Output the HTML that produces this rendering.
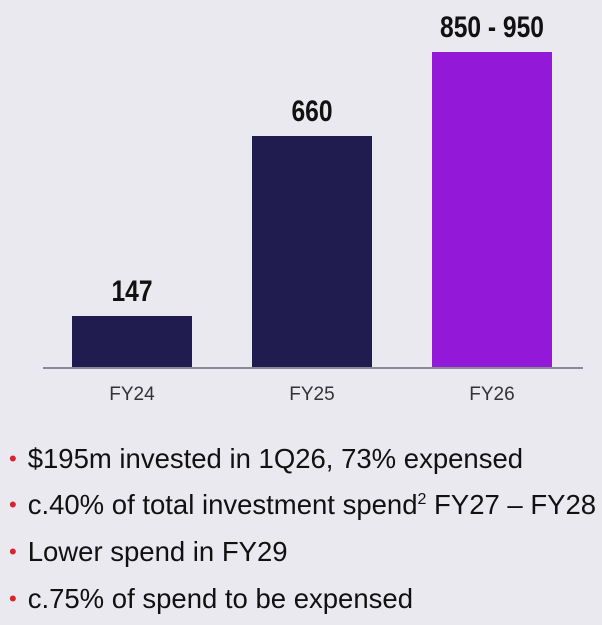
<!DOCTYPE html>
<html><head><style>
body{margin:0;width:602px;height:625px;background:#e9e9ef;position:relative;overflow:hidden;font-family:"Liberation Sans",sans-serif;}
.bar{position:absolute;width:120px}
.v{position:absolute;width:200px;text-align:center;font-family:"Liberation Sans Narrow","Liberation Sans",sans-serif;font-weight:bold;font-size:30px;color:#111;transform:scaleX(0.82)}
.x{position:absolute;width:120px;text-align:center;font-size:19px;color:#333}
.b{position:absolute;left:9px;font-size:27.5px;color:#111;white-space:nowrap}
.b span{color:#d9232e;font-size:22px;margin-right:11px;position:relative;top:-2px}
</style></head><body>
<div style="position:absolute;left:43px;top:367px;width:540px;height:2px;background:#8a8a94"></div>
<div class="bar" style="left:72px;top:316px;height:51px;background:#201c50"></div>
<div class="bar" style="left:252px;top:136px;height:231px;background:#201c50"></div>
<div class="bar" style="left:432px;top:52px;height:315px;background:#9418d8"></div>
<div class="v" style="left:32px;top:275px">147</div>
<div class="v" style="left:212px;top:95px">660</div>
<div class="v" style="left:392px;top:11px">850 - 950</div>
<div class="x" style="left:72px;top:384px">FY24</div>
<div class="x" style="left:252px;top:384px">FY25</div>
<div class="x" style="left:432px;top:384px">FY26</div>
<div class="b" style="top:443px"><span>•</span>$195m invested in 1Q26, 73% expensed</div>
<div class="b" style="top:489px"><span>•</span>c.40% of total investment spend<sup style="font-size:16px">2</sup> FY27 – FY28</div>
<div class="b" style="top:536px"><span>•</span>Lower spend in FY29</div>
<div class="b" style="top:583px"><span>•</span>c.75% of spend to be expensed</div>
</body></html>
